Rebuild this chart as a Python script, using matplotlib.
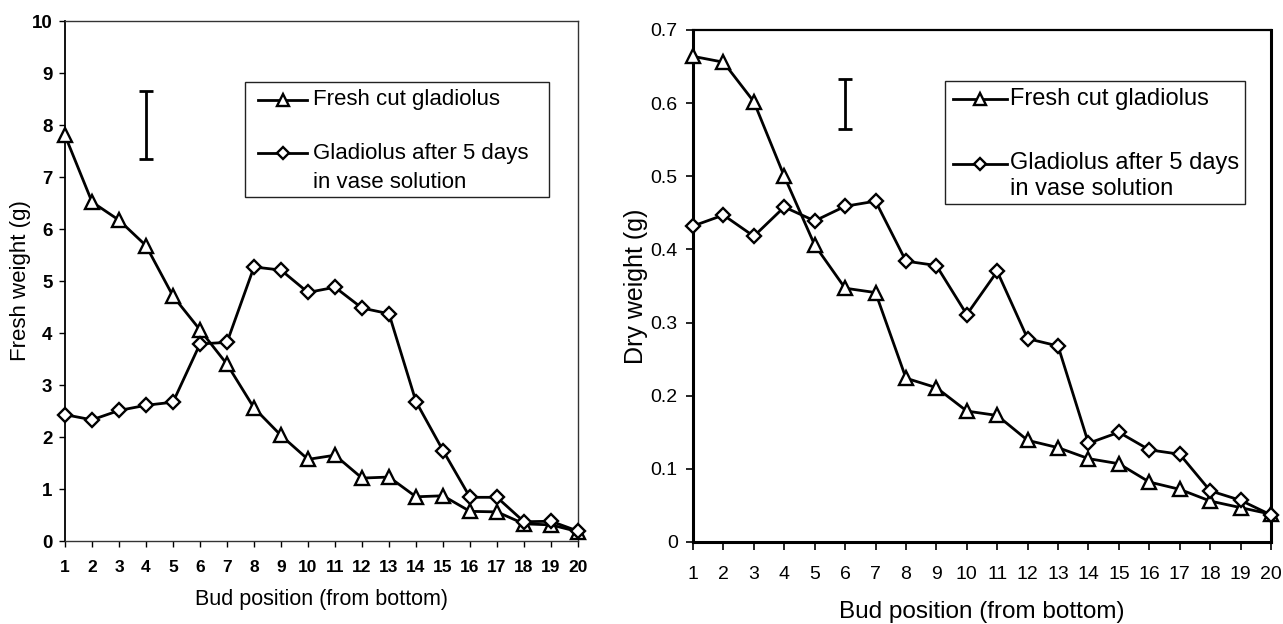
import matplotlib
matplotlib.use("Agg")
import matplotlib.pyplot as plt
from matplotlib.lines import Line2D
from matplotlib.patches import Rectangle

plt.rcParams['font.family'] = ['Liberation Sans', 'DejaVu Sans']

# ---------------- data ----------------
bud = list(range(1, 21))
fresh_fw = [7.80, 6.52, 6.17, 5.68, 4.71, 4.06, 3.40, 2.56, 2.03, 1.57,
            1.65, 1.21, 1.23, 0.85, 0.87, 0.57, 0.56, 0.33, 0.31, 0.18]
vase_fw = [2.43, 2.33, 2.51, 2.61, 2.67, 3.79, 3.82, 5.27, 5.21, 4.78,
           4.88, 4.48, 4.37, 2.68, 1.74, 0.84, 0.84, 0.37, 0.38, 0.19]
fresh_dw = [0.664, 0.656, 0.602, 0.500, 0.406, 0.347, 0.341, 0.224, 0.211, 0.179,
            0.173, 0.139, 0.129, 0.114, 0.107, 0.082, 0.072, 0.056, 0.047, 0.038]
vase_dw = [0.432, 0.447, 0.418, 0.458, 0.439, 0.459, 0.466, 0.384, 0.378, 0.311,
           0.370, 0.278, 0.268, 0.135, 0.150, 0.126, 0.120, 0.070, 0.057, 0.037]

# LSD-type error bars (x, centre, half-length)
err_fw = (4, 8.0, 0.65)
err_dw = (6, 0.599, 0.034)

fw_yticks = list(range(0, 11))
dw_yticks = [0, 0.1, 0.2, 0.3, 0.4, 0.5, 0.6, 0.7]
dw_yticklabels = ["0", "0.1", "0.2", "0.3", "0.4", "0.5", "0.6", "0.7"]

label_fresh = "Fresh cut gladiolus"
label_vase = ["Gladiolus after 5 days", "in vase solution"]
xlabel = "Bud position (from bottom)"

# ---------------- figure ----------------
W, H = 1283, 624
fig = plt.figure(figsize=(W / 100, H / 100), dpi=100)
fig.patch.set_facecolor('white')


def fx(x):
    return x / W


def fy(y):
    return 1 - y / H


def axes_px(x0, y0, x1, y1):
    return [fx(x0), fy(y1), (x1 - x0) / W, (y1 - y0) / H]


ax1 = fig.add_axes(axes_px(65, 21, 578, 541))
ax2 = fig.add_axes(axes_px(693, 30, 1271, 542))

line_kw = dict(color='black', lw=2.0, mfc='white', mec='black', mew=1.7,
               clip_on=False, zorder=3)

# ---- left: fresh weight
ax1.plot(bud, fresh_fw, marker='^', ms=10, **line_kw)
ax1.plot(bud, vase_fw, marker='D', ms=7, **line_kw)
ax1.errorbar([err_fw[0]], [err_fw[1]], yerr=[err_fw[2]], fmt='none',
             ecolor='black', elinewidth=2.0, capsize=5, capthick=2.0)
ax1.set_xlim(1, 20)
ax1.set_ylim(0, 10)
ax1.set_xticks(bud)
ax1.set_yticks(fw_yticks)
for lab in ax1.get_xticklabels() + ax1.get_yticklabels():
    lab.set_fontweight('bold')
ax1.tick_params(axis='x', direction='out', length=4, width=1, pad=10, labelsize=12.5)
ax1.tick_params(axis='y', direction='out', length=4, width=1, pad=5, labelsize=13.5)
for s in ax1.spines.values():
    s.set_linewidth(1.0)
    s.set_color('#333333')
ax1.spines['left'].set_linewidth(1.3)
ax1.spines['left'].set_color('black')
ax1.set_xlabel(xlabel, fontsize=15.5, va='center')
ax1.xaxis.set_label_coords(0.5, (541 - 600) / 520)
ax1.set_ylabel("Fresh weight (g)", fontsize=16, va='center')
ax1.yaxis.set_label_coords((21 - 65) / 513, 0.5)

# ---- right: dry weight
ax2.plot(bud, fresh_dw, marker='^', ms=10, **line_kw)
ax2.plot(bud, vase_dw, marker='D', ms=7, **line_kw)
ax2.errorbar([err_dw[0]], [err_dw[1]], yerr=[err_dw[2]], fmt='none',
             ecolor='black', elinewidth=2.0, capsize=5, capthick=2.0)
ax2.set_xlim(1, 20)
ax2.set_ylim(0, 0.7)
ax2.set_xticks(bud)
ax2.set_yticks(dw_yticks)
ax2.set_yticklabels(dw_yticklabels)
ax2.tick_params(axis='x', direction='out', length=6, width=1.2, pad=11, labelsize=14)
ax2.tick_params(axis='y', direction='out', length=5, width=1.2, pad=6, labelsize=14)
for k, s in ax2.spines.items():
    s.set_linewidth(2.2 if k != 'top' else 1.6)
    s.set_color('black')
ax2.set_xlabel(xlabel, fontsize=17.5, va='center')
ax2.xaxis.set_label_coords(0.5, (542 - 612) / 512)
ax2.set_ylabel("Dry weight (g)", fontsize=18, va='center')
ax2.yaxis.set_label_coords((636 - 693) / 578, 0.5)


# ---------------- legends (drawn in figure pixels) ----------------
def draw_legend(box, entries, fontsize, lw_box):
    x0, y0, x1, y1 = box
    fig.add_artist(Rectangle((fx(x0), fy(y1)), (x1 - x0) / W, (y1 - y0) / H,
                             transform=fig.transFigure, facecolor='white',
                             edgecolor='#222222', lw=lw_box, zorder=5))
    for marker, ms, hy, hx0, hx1, tx, lines in entries:
        fig.add_artist(Line2D([fx(hx0), fx(hx1)], [fy(hy), fy(hy)],
                              transform=fig.transFigure, color='black', lw=2.0,
                              zorder=6))
        fig.add_artist(Line2D([fx((hx0 + hx1) / 2)], [fy(hy)],
                              transform=fig.transFigure, marker=marker, ms=ms,
                              mfc='white', mec='black', mew=1.7, zorder=7))
        for text, ty in lines:
            fig.text(fx(tx), fy(ty), text, fontsize=fontsize, ha='left',
                     va='center', zorder=8)


draw_legend((245, 82, 549, 197),
            [('^', 9, 100, 258, 307, 313, [(label_fresh, 100)]),
             ('D', 6, 153, 258, 307, 313,
              [(label_vase[0], 153), (label_vase[1], 182)])],
            fontsize=16, lw_box=1.0)

draw_legend((945, 81, 1245, 204),
            [('^', 9, 99, 953, 1007, 1010, [(label_fresh, 99)]),
             ('D', 6, 164, 953, 1007, 1010,
              [(label_vase[0], 163), (label_vase[1], 189)])],
            fontsize=17, lw_box=1.0)

fig.savefig("out.png", dpi=100, facecolor='white')
